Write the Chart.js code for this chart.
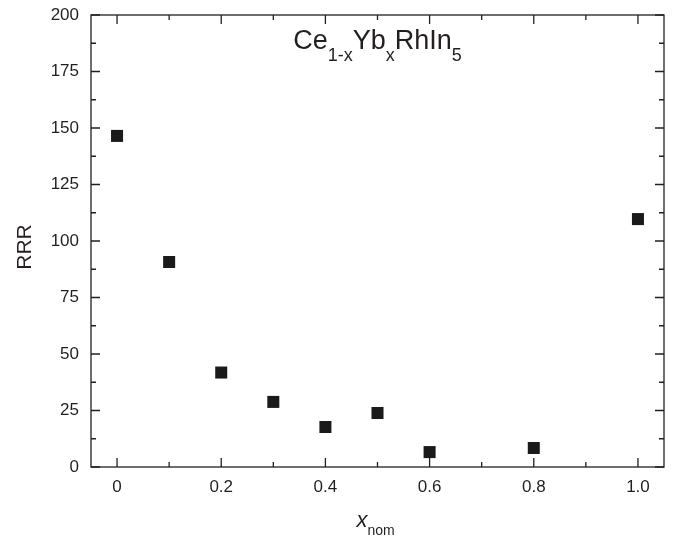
<!DOCTYPE html>
<html>
<head>
<meta charset="utf-8">
<script src="https://cdn.jsdelivr.net/npm/chart.js@4"></script>
<style>
  html, body { margin: 0; padding: 0; background: #fff; }
  #grafico { display: block; }
</style>
</head>
<body>
<canvas id="grafico" width="682" height="542"></canvas>
<script>
// datos
const xNom = [0, 0.1, 0.2, 0.3, 0.4, 0.5, 0.6, 0.8, 1.0];
const rrr = [146.5, 90.7, 41.8, 28.8, 17.7, 23.9, 6.6, 8.4, 109.7];

const xMajor = [0, 0.2, 0.4, 0.6, 0.8, 1.0];
const xMinor = [0.1, 0.3, 0.5, 0.7, 0.9];
const xTickLabels = ["0", "0.2", "0.4", "0.6", "0.8", "1.0"];
const yMajor = [0, 25, 50, 75, 100, 125, 150, 175, 200];
const yMinor = [12.5, 37.5, 62.5, 87.5, 112.5, 137.5, 162.5, 187.5];

const INK = "#231f20";
const FONT = "'Liberation Sans', Arial, sans-serif";

// marco con ticks hacia adentro, titulo y etiquetas con subindices
const marco = {
  id: "marco",
  afterDraw(chart) {
    const { ctx, chartArea: a, scales: { x, y } } = chart;
    ctx.save();
    ctx.strokeStyle = INK;
    ctx.lineWidth = 1.3;
    ctx.strokeRect(a.left, a.top, a.width, a.height);

    const tickX = (v, len) => {
      const px = x.getPixelForValue(v);
      ctx.beginPath();
      ctx.moveTo(px, a.bottom); ctx.lineTo(px, a.bottom - len);
      ctx.moveTo(px, a.top); ctx.lineTo(px, a.top + len);
      ctx.stroke();
    };
    const tickY = (v, len) => {
      const py = y.getPixelForValue(v);
      ctx.beginPath();
      ctx.moveTo(a.left, py); ctx.lineTo(a.left + len, py);
      ctx.moveTo(a.right, py); ctx.lineTo(a.right - len, py);
      ctx.stroke();
    };
    xMajor.forEach((v) => tickX(v, 9));
    xMinor.forEach((v) => tickX(v, 5));
    yMajor.forEach((v) => tickY(v, 9));
    yMinor.forEach((v) => tickY(v, 5));

    // texto con subindices
    const partes = (items, cx, base) => {
      let total = 0;
      items.forEach((p) => { ctx.font = p.font; total += ctx.measureText(p.t).width; });
      let px = cx - total / 2;
      ctx.textAlign = "left";
      ctx.textBaseline = "alphabetic";
      items.forEach((p) => {
        ctx.font = p.font;
        ctx.fillText(p.t, px, base + (p.dy || 0));
        px += ctx.measureText(p.t).width;
      });
    };
    ctx.fillStyle = INK;
    const big = "27px " + FONT;
    const sub = "18px " + FONT;
    partes([
      { t: "Ce", font: big },
      { t: "1-x", font: sub, dy: 12 },
      { t: "Yb", font: big },
      { t: "x", font: sub, dy: 12 },
      { t: "RhIn", font: big },
      { t: "5", font: sub, dy: 12 },
    ], (a.left + a.right) / 2, 49);

    partes([
      { t: "x", font: "italic 22px " + FONT },
      { t: "nom", font: "14px " + FONT, dy: 8 },
    ], (a.left + a.right) / 2 - 2, 527);

    ctx.translate(25, 247);
    ctx.rotate(-Math.PI / 2);
    ctx.font = "21px " + FONT;
    ctx.textAlign = "center";
    ctx.textBaseline = "middle";
    ctx.fillText("RRR", 0, 0);
    ctx.restore();
  },
};

new Chart(document.getElementById("grafico"), {
  type: "scatter",
  data: {
    datasets: [
      {
        label: "RRR",
        data: xNom.map((v, i) => ({ x: v, y: rrr[i] })),
        pointStyle: "rect",
        pointRadius: 8.5,
        pointHoverRadius: 8.5,
        backgroundColor: "#1a1a1a",
        borderColor: "#1a1a1a",
        borderWidth: 0,
      },
    ],
  },
  options: {
    responsive: false,
    animation: false,
    layout: { padding: { top: 15, right: 18, left: 0, bottom: 0 } },
    plugins: {
      legend: { display: false },
      tooltip: { enabled: false },
    },
    scales: {
      x: {
        type: "linear",
        min: -0.05,
        max: 1.05,
        afterBuildTicks: (s) => { s.ticks = xMajor.map((v) => ({ value: v })); },
        afterFit: (s) => {
          s.height = 75;
          s.paddingLeft = 0;
          s.paddingRight = 0;
        },
        grid: { display: false, drawTicks: false },
        border: { display: false },
        ticks: {
          padding: 10,
          color: INK,
          font: { family: FONT, size: 17 },
          callback: (v) => xTickLabels[xMajor.findIndex((m) => Math.abs(m - v) < 1e-6)],
        },
      },
      y: {
        min: 0,
        max: 200,
        afterBuildTicks: (s) => { s.ticks = yMajor.map((v) => ({ value: v })); },
        afterFit: (s) => {
          s.width = 91;
          s.paddingTop = 0;
          s.paddingBottom = 0;
        },
        grid: { display: false, drawTicks: false },
        border: { display: false },
        ticks: {
          padding: 12,
          color: INK,
          font: { family: FONT, size: 17 },
        },
      },
    },
  },
  plugins: [marco],
});
</script>
</body>
</html>
